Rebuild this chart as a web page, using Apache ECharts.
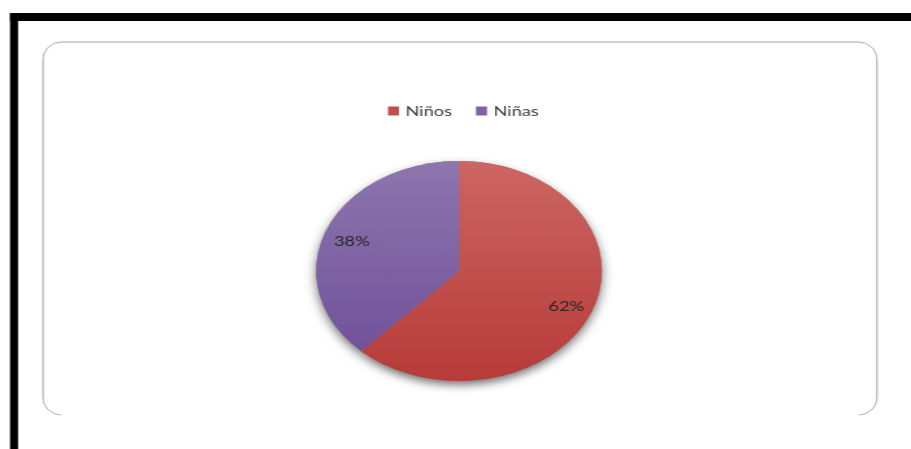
<!DOCTYPE html>
<html>
<head>
<meta charset="utf-8">
<script src="https://cdn.jsdelivr.net/npm/echarts@6/dist/echarts.min.js"></script>
<style>
  html, body { margin: 0; padding: 0; background: #fff; overflow: hidden; }
  #wrap { width: 911px; height: 449px; overflow: hidden; position: relative; }
  #chart { position: absolute; left: 0; top: 0; height: 449px; transform-origin: 0 0; }
</style>
</head>
<body>
<div id="wrap"><div id="chart"></div></div>
<script>
// Categories and their shares (percent)
const categories = ['Niños', 'Niñas'];
const shares = [62, 38];
const baseColors = ['#C0504D', '#8064A2'];
const topColors = ['#CC6662', '#8E76AE'];
const bottomColors = ['#B73B39', '#71529A'];

// The drawing is laid out on a narrower canvas and stretched horizontally.
const W = 701;
const S = 911 / W;
const chartEl = document.getElementById('chart');
chartEl.style.width = W + 'px';
chartEl.style.transform = 'scaleX(' + S + ')';
const X = v => v / S;

const chart = echarts.init(chartEl, null, { renderer: 'canvas' });

const pieData = categories.map((name, i) => ({
  name,
  value: shares[i],
  itemStyle: {
    color: {
      type: 'linear', x: 0, y: 0, x2: 0, y2: 1,
      colorStops: [
        { offset: 0, color: topColors[i] },
        { offset: 1, color: bottomColors[i] }
      ]
    }
  }
}));

const center = [X(459), 271];
const R = 110;

// frame: rounded on all four corners, open along the bottom edge
const L = X(43), Rt = X(877), T = 42, B = 415, cr = 18, rx = X(cr);
const frameStroke = { stroke: '#a3a3a3', lineWidth: 1, fill: null };
const frameLine = (x1, y1, x2, y2) => ({
  type: 'line', silent: true, z: 0,
  shape: { x1, y1, x2, y2 }, style: frameStroke
});
const frameCorner = (cx, cy, a0, a1) => ({
  type: 'arc', silent: true, z: 0,
  x: cx, y: cy, scaleX: 1 / S, scaleY: 1,
  shape: { cx: 0, cy: 0, r: cr, startAngle: a0, endAngle: a1, clockwise: true },
  style: frameStroke
});

const option = {
  animation: false,
  backgroundColor: '#ffffff',
  graphic: [
    { type: 'rect', silent: true, z: 0, shape: { x: X(10), y: 13, width: W, height: 8 }, style: { fill: '#000' } },
    { type: 'rect', silent: true, z: 0, shape: { x: X(10), y: 13, width: X(8), height: 449 }, style: { fill: '#000' } },
    frameLine(L, T + cr, L, B - cr),
    frameLine(Rt, T + cr, Rt, B - cr),
    frameLine(L + rx, T, Rt - rx, T),
    frameCorner(L + rx, T + cr, Math.PI, Math.PI * 1.5),
    frameCorner(Rt - rx, T + cr, Math.PI * 1.5, Math.PI * 2),
    frameCorner(Rt - rx, B - cr, 0, Math.PI * 0.5),
    frameCorner(L + rx, B - cr, Math.PI * 0.5, Math.PI)
  ],
  legend: {
    data: categories.map((name, i) => ({ name, itemStyle: { color: baseColors[i] } })),
    left: X(388),
    top: 104,
    padding: 0,
    icon: 'rect',
    itemWidth: X(11),
    itemHeight: 9,
    itemGap: X(24),
    selectedMode: false,
    textStyle: { fontFamily: 'Lato', fontSize: 14, color: '#404040' }
  },
  series: [
    {
      // soft drop shadow underneath the pie
      type: 'pie', z: 1, silent: true,
      center, radius: [0, R],
      startAngle: 90, clockwise: true,
      avoidLabelOverlap: false,
      label: { show: false }, labelLine: { show: false },
      itemStyle: { color: '#888', shadowBlur: 9, shadowOffsetY: 4, shadowColor: 'rgba(0,0,0,0.55)' },
      data: categories.map((name, i) => ({ name, value: shares[i] }))
    },
    {
      type: 'pie', z: 2, silent: true,
      center, radius: [0, R],
      startAngle: 90, clockwise: true,
      avoidLabelOverlap: false,
      label: { show: false }, labelLine: { show: false },
      data: pieData
    },
    {
      // percentage labels, placed toward the rim
      type: 'pie', z: 3, silent: true,
      center, radius: [R * 0.56, R],
      startAngle: 90, clockwise: true,
      avoidLabelOverlap: false,
      itemStyle: { color: 'rgba(0,0,0,0)' },
      labelLine: { show: false },
      label: {
        show: true, position: 'inside',
        formatter: p => p.value + '%',
        fontFamily: 'Lato', fontSize: 14, color: '#262626',
        offset: [0, 3]
      },
      data: categories.map((name, i) => ({ name, value: shares[i] }))
    }
  ]
};

chart.setOption(option);
</script>
</body>
</html>
